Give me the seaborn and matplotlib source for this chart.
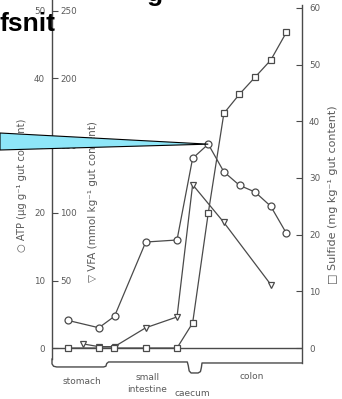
import matplotlib
matplotlib.use("Agg")
import matplotlib.pyplot as plt
import matplotlib.transforms as mtransforms
from matplotlib.patches import Polygon
import pandas as pd
import seaborn as sns

# Sampling positions along the gut (index of sampling site) and measured contents
atp_site = [0, 2, 3, 5, 7, 8, 9, 10, 11, 12, 13, 14]
atp_val = [4.1, 3.0, 4.7, 15.7, 16.0, 28.1, 30.2, 26.1, 24.1, 23.1, 21.0, 17.0]

vfa_site = [1, 2, 3, 5, 7, 8, 10, 13]
vfa_val = [3, 1, 1, 15, 23, 121, 93, 47]

sulfide_site = [0, 2, 3, 5, 7, 8, 9, 10, 11, 12, 13, 14]
sulfide_val = [0, 0, 0, 0, 0, 4.4, 23.8, 41.4, 44.8, 47.8, 50.8, 55.7]

atp_ticks = [0, 10, 20, 30, 40, 50]
vfa_ticks = [50, 100, 150, 200, 250]
sulfide_ticks = [0, 10, 20, 30, 40, 50, 60]

region_names = ["stomach", "small\nintestine", "caecum", "colon"]
region_x = [0.9, 5.1, 8.0, 11.8]
region_y = [-4.9, -5.3, -6.7, -4.2]

highlight_site = 9  # the ATP maximum pointed at by the callout

sns.set_style("white")
plt.rcParams["font.family"] = ["DejaVu Sans"]

W, H = 342, 399
fig = plt.figure(figsize=(W / 100, H / 100), dpi=100)
fig.patch.set_facecolor("white")

rect = [52 / W, 19 / H, 250 / W, 380 / H]
ax = fig.add_axes(rect)
ax_v = fig.add_axes(rect, sharex=ax)
ax_s = ax.twinx()
ax_v.patch.set_visible(False)
ax_s.patch.set_visible(False)

ink = "#4a4a4a"
txt = "#5a5a5a"

atp_lim = (-32 / 6.75, 348 / 6.75)
ax.set_xlim(-1, 15)
ax.set_ylim(*atp_lim)
ax_v.set_ylim(atp_lim[0] * 5, atp_lim[1] * 5)
ax_s.set_ylim(-32 / 5.667, 348 / 5.667)

line_kw = dict(color=ink, linewidth=0.9, markersize=5,
               markerfacecolor="white", markeredgecolor=ink, markeredgewidth=0.9)

df_atp = pd.DataFrame({"site": atp_site, "ATP": atp_val})
df_vfa = pd.DataFrame({"site": vfa_site, "VFA": vfa_val})
df_sul = pd.DataFrame({"site": sulfide_site, "Sulfide": sulfide_val})

sns.lineplot(data=df_sul, x="site", y="Sulfide", marker="s", ax=ax_s, **line_kw)
sns.lineplot(data=df_vfa, x="site", y="VFA", marker="v", ax=ax_v, **line_kw)
sns.lineplot(data=df_atp, x="site", y="ATP", marker="o", ax=ax, **line_kw)

# baseline
ax.axhline(0, color=ink, linewidth=1.0, zorder=1)

# spines
for a in (ax, ax_v, ax_s):
    for s in a.spines.values():
        s.set_visible(False)
ax.spines["left"].set_visible(True)
ax.spines["left"].set_color(ink)
ax.spines["left"].set_linewidth(1.0)
ax.spines["left"].set_bounds(-1.6, atp_lim[1])
ax_s.spines["right"].set_visible(True)
ax_s.spines["right"].set_color(ink)
ax_s.spines["right"].set_linewidth(1.0)
ax_s.spines["right"].set_bounds(-2.65, 60.6)

# ticks
ax.set_xticks([])
ax_v.set_xticks([])
ax.set_xlabel("")
ax_v.set_xlabel("")
ax.set_yticks(atp_ticks)
ax.set_yticklabels([str(t) for t in atp_ticks])
ax.tick_params(axis="y", direction="in", length=4, width=0.8, color=ink,
               labelsize=6.3, labelcolor=txt, pad=5, left=True)
ax_v.set_yticks(vfa_ticks)
ax_v.set_yticklabels([str(t) for t in vfa_ticks])
ax_v.tick_params(axis="y", length=0, labelsize=6.3, labelcolor=txt, pad=-6)
for lab in ax_v.get_yticklabels():
    lab.set_horizontalalignment("left")
ax_s.set_yticks(sulfide_ticks)
ax_s.set_yticklabels([str(t) for t in sulfide_ticks])
ax_s.tick_params(axis="y", direction="in", length=4, width=0.8, color=ink,
                 labelsize=6.3, labelcolor=txt, pad=5, right=True)

# axis titles
ax.set_ylabel("○ ATP (µg g⁻¹ gut content)", fontsize=7.2, color=txt)
ax.yaxis.set_label_coords(-0.10, 0.513)
ax_v.set_ylabel("▽ VFA (mmol kg⁻¹ gut content)", fontsize=7.5, color=txt)
ax_v.yaxis.set_label_coords(0.185, 0.47)
ax_s.set_ylabel("□ Sulfide (mg kg⁻¹ gut content)", fontsize=8, color=txt,
                rotation=90)
ax_s.yaxis.set_label_coords(1.104, 0.487)

# bracket marking the gut sections
bx = [-1, -1, -0.9, -0.7, 2.3, 2.45, 2.5, 2.62, 7.66, 7.72, 7.78, 7.9, 8.35,
      8.5, 8.56, 8.6, 15]
by = [-1.6, -2.35, -2.7, -2.81, -2.81, -2.7, -2.3, -2.07, -2.07, -2.6, -3.4,
      -3.7, -3.7, -3.5, -2.9, -2.22, -2.22]
ax.plot(bx, by, color=ink, linewidth=1.0, clip_on=False, zorder=1)

for name, x, y in zip(region_names, region_x, region_y):
    ax.text(x, y, name, ha="center", va="center", fontsize=6.5, color=txt,
            linespacing=1.4, clip_on=False)

# callout wedge pointing at the ATP maximum
tip = ax.transData.transform((highlight_site, atp_val[atp_site.index(highlight_site)]))
wedge = Polygon([(0, H - 133), (tip[0], tip[1]), (0, H - 150)], closed=True,
                facecolor="#8ee6f8", edgecolor="black", linewidth=0.8,
                transform=mtransforms.IdentityTransform(), zorder=10)
fig.add_artist(wedge)

# heading fragments
fig.text(0, 1 - 31 / H, "fsnit", fontsize=19, fontweight="bold",
         family="Liberation Sans", color="black", ha="left", va="baseline")
fig.text(147 / W, 1 - 1 / H, "g", fontsize=19, fontweight="bold",
         family="Liberation Sans", color="black", ha="left", va="baseline")

fig.savefig("out.png", dpi=100, facecolor="white")
